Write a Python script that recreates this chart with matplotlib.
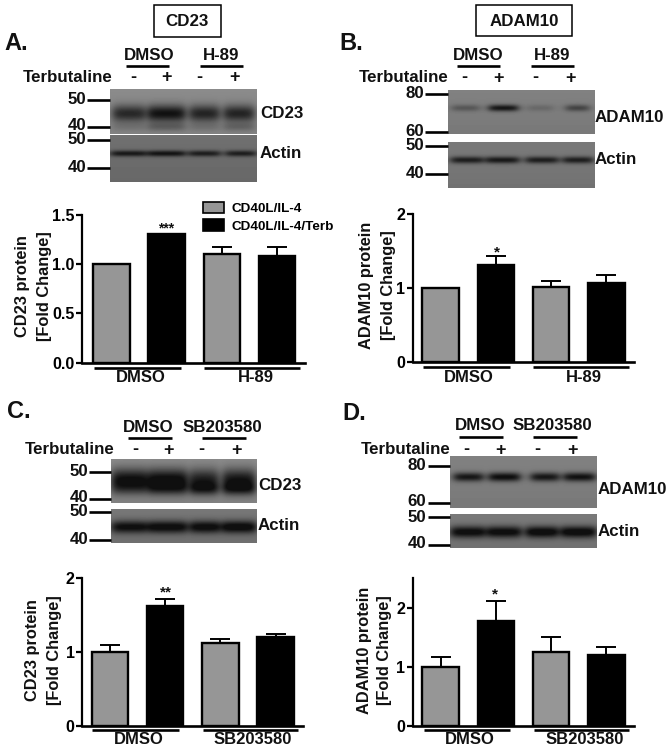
import numpy as np
import matplotlib
matplotlib.use('agg')
import matplotlib.pyplot as plt
from matplotlib.patches import Patch, Rectangle

plt.rcParams['font.family'] = ['Liberation Sans', 'DejaVu Sans']
plt.rcParams['font.weight'] = 'bold'

W, H = 672, 750
GREY = '#969696'

# bar values
cd23_h89 = [1.0, 1.31, 1.10, 1.08]
cd23_h89_err = [0, 0, 0.07, 0.10]
adam10_h89 = [1.0, 1.31, 1.02, 1.07]
adam10_h89_err = [0, 0.12, 0.08, 0.11]
cd23_sb = [1.0, 1.63, 1.12, 1.20]
cd23_sb_err = [0.10, 0.09, 0.05, 0.04]
adam10_sb = [1.0, 1.78, 1.25, 1.20]
adam10_sb_err = [0.16, 0.34, 0.25, 0.14]

legend_labels = ['CD40L/IL-4', 'CD40L/IL-4/Terb']

# band darkness per lane on the blots
cd23_a_bands = [95, 118, 100, 100]
cd23_a_lower = [14, 32, 16, 28]
actin_a_bands = [85, 90, 80, 80]
adam10_b_bands = [40, 105, 22, 60]
actin_b_bands = [90, 95, 90, 90]
cd23_c_bands = [125, 130, 105, 115]
cd23_c_lower = [30, 50, 70, 70]
actin_c_bands = [105, 110, 110, 115]
adam10_d_bands = [105, 115, 105, 110]
actin_d_bands = [112, 112, 118, 118]

fig = plt.figure(figsize=(W / 100, H / 100), dpi=100, facecolor='white')

# whole-figure layer in pixel coordinates, for blots and annotation
ov = fig.add_axes([0, 0, 1, 1], zorder=5)
ov.patch.set_alpha(0)
ov.axis('off')


def txt(x, y, s, size=12.2, ha='center', **kw):
    ov.text(x, y, s, fontsize=size, ha=ha, va='center', fontweight='bold', color='#111111', **kw)


def hline(x0, x1, y, lw=1.9):
    ov.plot([x0, x1], [y, y], color='black', lw=lw, solid_capstyle='butt')


def blot(box, bg, lanes, bands):
    x0, x1, y0, y1 = box
    xs = np.arange(x0, x1) + 0.5
    ys = np.arange(y0, y1) + 0.5
    img = np.full((len(ys), len(xs)), float(bg))
    # slow top to bottom shading
    img += np.linspace(4, -4, len(ys))[:, None]
    for yc, sig, strengths in bands:
        for (a, b), s in zip(lanes, strengths):
            env = 0.5 * (np.tanh((xs - a) / 5) - np.tanh((xs - b) / 5))
            img -= s * np.exp(-0.5 * ((ys[:, None] - yc) / sig) ** 2) * env
    ov.imshow(np.clip(img, 15, 255), cmap='gray', vmin=0, vmax=255, aspect='auto',
              extent=(x0, x1, y1, y0), interpolation='bilinear')


def bars(box, first, ylim, ticks, ticklabels, vals, errs):
    left, right, top, bottom = box
    ax = fig.add_axes([left / W, 1 - bottom / H, (right - left) / W, (bottom - top) / H])
    span = 55.2
    ax.set_xlim(-(first - left) / span, (right - first) / span)
    ax.set_ylim(*ylim)
    x = np.arange(len(vals))
    cols = [GREY, 'black', GREY, 'black']
    ax.bar(x, vals, width=0.66, color=cols, edgecolor='black', linewidth=1.7)
    ax.errorbar(x, vals, yerr=[np.zeros(len(vals)), errs], fmt='none', ecolor='black',
                elinewidth=1.4, capsize=7.5, capthick=1.4)
    for s in ['top', 'right']:
        ax.spines[s].set_visible(False)
    ax.spines['left'].set_linewidth(1.6)
    ax.spines['bottom'].set_linewidth(1.9)
    ax.set_xticks([])
    ax.set_yticks(ticks)
    ax.set_yticklabels(ticklabels, fontsize=11.6, fontweight='bold')
    ax.tick_params(axis='y', width=1.6, length=4, pad=1.5)
    return ax


# panel A
txt(187, 21, 'CD23')
ov.add_patch(Rectangle((153.5, 5), 67, 31.5, fill=False, ec='black', lw=1.1))
txt(4, 43, 'A.', size=17, ha='left')
txt(149, 56, 'DMSO')
txt(221, 56, 'H-89')
hline(126, 169, 66)
hline(200, 243, 66)
txt(68, 77, 'Terbutaline')
for x, s in zip([133, 167, 199, 234], '-+-+'):
    txt(x, 77.5, s, size=13)
for y, s in [(99, '50'), (126, '40'), (140, '50'), (168, '40')]:
    txt(77, y, s)
for y in [100, 127, 140, 168]:
    hline(87, 110, y)
blot((110, 257, 89, 134), 135, [(113, 145), (148, 185), (190, 219), (224, 254)],
     [(113.5, 6, cd23_a_bands), (127, 3, cd23_a_lower)])
blot((110, 257, 135, 182), 108, [(111, 146), (148, 185), (189, 220), (226, 256)],
     [(153.5, 2.2, actin_a_bands)])
txt(260, 113, 'CD23', ha='left')
txt(260, 153, 'Actin', ha='left')
ax_a = bars((82, 305, 215, 362.7), 111.5, (0, 1.5), [0, 0.5, 1.0, 1.5], ['0.0', '0.5', '1.0', '1.5'],
            cd23_h89, cd23_h89_err)
txt(23, 286, 'CD23 protein', size=11.8, rotation=90)
txt(44, 286, '[Fold Change]', size=11.8, rotation=90)
txt(166, 228.5, '***', size=10)
hline(94, 181, 367.5)
hline(204, 300, 367.5)
txt(141, 378, 'DMSO', size=12)
txt(256, 378, 'H-89', size=12)
ax_a.legend(handles=[Patch(fc=GREY, ec='black', lw=1.2, label=legend_labels[0]),
                     Patch(fc='black', ec='black', lw=1.2, label=legend_labels[1])],
            loc='upper left', bbox_to_anchor=(200 / W, 1 - 199 / H), bbox_transform=fig.transFigure,
            frameon=False, fontsize=9.7, handlelength=1.55, handleheight=0.95, handletextpad=0.6,
            labelspacing=0.3, borderpad=0.2, borderaxespad=0)

# panel B
txt(524, 21, 'ADAM10')
ov.add_patch(Rectangle((476, 5), 96, 31, fill=False, ec='black', lw=1.1))
txt(339, 43, 'B.', size=17, ha='left')
txt(478, 55, 'DMSO')
txt(552, 55, 'H-89')
hline(457, 500, 65.5)
hline(531, 574, 65.5)
txt(404, 77, 'Terbutaline')
for x, s in zip([464, 498, 535, 570], '-+-+'):
    txt(x, 78, s, size=13)
for y, s in [(93, '80'), (131, '60'), (146, '50'), (173, '40')]:
    txt(415, y, s)
for y in [94, 132, 146, 174]:
    hline(425, 448, y)
blot((448, 595, 90, 134), 125, [(452, 479), (489, 518), (528, 553), (566, 589)],
     [(108, 2.4, adam10_b_bands)])
blot((448, 595, 142, 188), 118, [(451, 483), (486, 519), (526, 558), (563, 593)],
     [(160, 2.5, actin_b_bands)])
txt(595, 118, 'ADAM10', ha='left')
txt(595, 160, 'Actin', ha='left')
bars((412.7, 633.7, 214.3, 362.3), 440.7, (0, 2), [0, 1, 2], ['0', '1', '2'], adam10_h89, adam10_h89_err)
txt(367, 285, 'ADAM10 protein', size=11.8, rotation=90)
txt(388, 285, '[Fold Change]', size=11.8, rotation=90)
txt(497, 252, '*', size=11)
hline(423, 510, 367)
hline(533, 629, 367)
txt(469, 378, 'DMSO', size=12)
txt(584, 378, 'H-89', size=12)

# panel C
txt(7, 412, 'C.', size=17, ha='left')
txt(148, 427, 'DMSO')
txt(222, 427, 'SB203580')
hline(128, 172, 438)
hline(202, 246, 438)
txt(70, 449, 'Terbutaline')
for x, s in zip([135, 169, 201, 236], '-+-+'):
    txt(x, 450, s, size=13)
for y, s in [(471, '50'), (498, '40'), (512, '50'), (539, '40')]:
    txt(79, y, s)
for y in [472, 499, 512, 540]:
    hline(89, 111, y)
blot((111, 257, 459, 503), 135, [(112, 147), (148, 187), (190, 218), (223, 255)],
     [(480, 8, cd23_c_bands), (489, 4.5, cd23_c_lower)])
blot((111, 257, 509, 543), 115, [(112, 147), (148, 187), (190, 220), (222, 256)],
     [(527, 4.5, actin_c_bands)])
txt(258, 485, 'CD23', ha='left')
txt(258, 525, 'Actin', ha='left')
bars((82.3, 303, 578.3, 725.7), 110, (0, 2), [0, 1, 2], ['0', '1', '2'], cd23_sb, cd23_sb_err)
txt(33, 650, 'CD23 protein', size=11.8, rotation=90)
txt(55, 650, '[Fold Change]', size=11.8, rotation=90)
txt(166, 592.5, '**', size=11)
hline(92, 179, 730)
hline(203, 298, 730)
txt(139, 740, 'DMSO', size=12)
txt(253, 740, 'SB203580', size=12)

# panel D
txt(342, 413, 'D.', size=17, ha='left')
txt(480, 425, 'DMSO')
txt(552, 425, 'SB203580')
hline(459, 503, 437)
hline(533, 577, 437)
txt(406, 449, 'Terbutaline')
for x, s in zip([466, 500, 537, 572], '-+-+'):
    txt(x, 450, s, size=13)
for y, s in [(465, '80'), (502, '60'), (517, '50'), (544, '40')]:
    txt(417, y, s)
for y in [466, 503, 517, 545]:
    hline(428, 450, y)
blot((450, 597, 456, 508), 125, [(454, 483), (489, 520), (531, 559), (564, 595)],
     [(477, 3.2, adam10_d_bands)])
blot((450, 597, 514, 548), 118, [(451, 485), (487, 521), (526, 558), (561, 596)],
     [(532, 4.2, actin_d_bands)])
txt(598, 490, 'ADAM10', ha='left')
txt(598, 532, 'Actin', ha='left')
bars((412.7, 633.7, 578.3, 725.7), 440.7, (0, 2.5), [0, 1, 2], ['0', '1', '2'], adam10_sb, adam10_sb_err)
txt(364, 650, 'ADAM10 protein', size=11.8, rotation=90)
txt(384, 650, '[Fold Change]', size=11.8, rotation=90)
txt(495, 594, '*', size=11)
hline(424, 510, 730)
hline(534, 629, 730)
txt(470, 740, 'DMSO', size=12)
txt(585, 740, 'SB203580', size=12)

ov.set_xlim(0, W)
ov.set_ylim(H, 0)

fig.savefig('out.png', dpi=100, facecolor='white')
plt.close(fig)
